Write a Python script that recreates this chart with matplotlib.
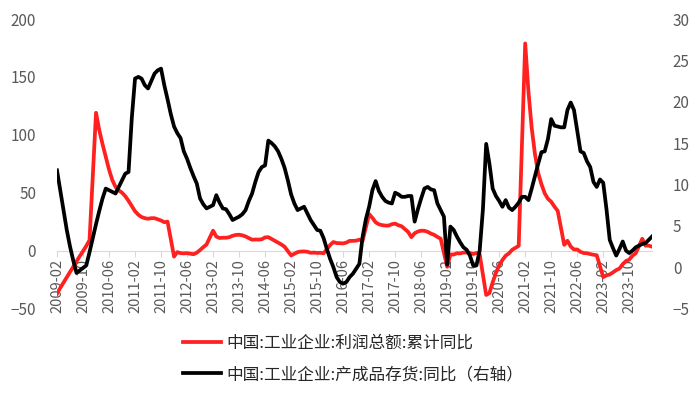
import numpy as np
import pandas as pd
import matplotlib
matplotlib.use("Agg")
import matplotlib.pyplot as plt

plt.rcParams['font.family'] = ['Noto Sans CJK SC', 'DejaVu Sans']

# 月份：2009-02 ~ 2024-05
months = pd.date_range("2009-02-01", "2024-05-01", freq="MS")

# 利润总额:累计同比 (%)，1月无数据
profit_yoy = [
    -37.3, -32.2, -27.6, -23.0, -18.5, -14.0, -9.3, -4.8, -0.5, 4.0, 9.0,          # 2009
    None, 119.0, 104.0, 92.0, 81.0, 70.0, 61.0, 55.0, 52.0, 50.0, 47.0, 43.0,     # 2010
    None, 34.0, 31.0, 29.0, 28.0, 27.5, 28.0, 28.0, 27.0, 26.0, 24.5, 25.0,       # 2011
    None, -5.2, -1.3, -2.2, -2.4, -2.2, -2.7, -3.1, -1.8, 0.5, 3.0, 5.3,          # 2012
    None, 17.2, 12.1, 10.9, 11.1, 11.1, 11.6, 12.8, 13.5, 13.7, 13.2, 12.2,       # 2013
    None, 9.4, 9.6, 9.5, 9.8, 11.4, 11.6, 10.0, 8.5, 6.7, 5.3, 3.3,               # 2014
    None, -4.2, -2.7, -1.3, -0.8, -0.7, -1.0, -1.9, -1.7, -2.0, -1.9, -2.3,       # 2015
    None, 4.8, 7.4, 6.5, 6.4, 6.2, 6.9, 8.4, 8.4, 8.6, 9.4, 8.5,                  # 2016
    None, 31.5, 28.3, 24.4, 22.7, 22.0, 21.6, 21.6, 22.8, 23.3, 21.9, 21.0,       # 2017
    None, 16.1, 11.6, 15.0, 16.5, 17.2, 17.1, 16.2, 14.7, 13.6, 11.8, 10.3,       # 2018
    None, -14.0, -3.3, -3.4, -2.3, -2.4, -1.7, -1.7, -2.1, -2.9, -2.1, -3.3,      # 2019
    None, -38.3, -36.7, -27.4, -19.3, -12.8, -8.1, -4.4, -2.4, 0.7, 2.4, 4.1,     # 2020
    None, 178.9, 137.3, 106.0, 83.4, 66.9, 57.3, 49.5, 44.7, 42.2, 38.0, 34.3,    # 2021
    None, 5.0, 8.5, 3.5, 1.0, 1.0, -1.1, -2.1, -2.3, -3.0, -3.6, -4.0,            # 2022
    None, -22.9, -21.4, -20.6, -18.8, -16.8, -15.5, -11.7, -9.0, -7.8, -4.4, -2.3,  # 2023
    None, 10.2, 4.3, 4.3, 3.4,                                                    # 2024
]

# 产成品存货:同比 (%)，右轴
inventory_yoy = [
    11.7, 9.3, 6.9, 4.5, 2.5, 0.8, -0.7, -0.4, -0.1, 0.2, 1.8,                    # 2009
    3.5, 5.2, 6.8, 8.3, 9.5, 9.3, 9.1, 8.9, 9.7, 10.5, 11.3, 11.5,                # 2010
    18.0, 22.8, 23.0, 22.8, 22.0, 21.6, 22.5, 23.4, 23.8, 24.0, 22.0, 20.3,       # 2011
    18.5, 17.0, 16.2, 15.6, 14.0, 13.1, 12.0, 11.0, 10.1, 8.3, 7.6, 7.1,          # 2012
    7.3, 7.5, 8.7, 7.8, 7.1, 7.0, 6.4, 5.7, 5.9, 6.1, 6.4, 6.9,                   # 2013
    8.0, 8.9, 10.3, 11.5, 12.1, 12.3, 15.3, 15.0, 14.6, 14.0, 13.1, 12.0,         # 2014
    10.5, 8.8, 7.7, 6.9, 7.1, 7.3, 6.5, 5.7, 5.1, 4.5, 4.4, 3.5,                  # 2015
    2.2, 1.0, 0.0, -1.2, -1.8, -2.0, -1.8, -1.2, -0.8, -0.2, 0.4, 3.7,            # 2016
    5.8, 7.3, 9.3, 10.4, 9.2, 8.5, 8.0, 7.8, 7.7, 9.0, 8.8, 8.5,                  # 2017
    8.5, 8.6, 8.6, 5.5, 7.0, 8.3, 9.5, 9.7, 9.4, 9.3, 7.7, 6.9,                   # 2018
    6.1, 0.3, 4.9, 4.5, 3.7, 3.0, 2.4, 2.1, 1.4, 0.2, 0.2, 2.0,                   # 2019
    7.0, 14.9, 12.5, 9.5, 8.6, 8.0, 7.3, 8.1, 7.2, 6.9, 7.3, 7.8,                 # 2020
    8.5, 8.5, 8.1, 9.5, 11.0, 12.5, 13.9, 14.0, 15.5, 17.9, 17.1, 17.0,           # 2021
    16.9, 16.9, 19.0, 19.9, 19.0, 16.5, 14.0, 13.8, 12.8, 12.1, 10.3, 9.7,        # 2022
    10.6, 10.2, 7.0, 3.3, 2.3, 1.4, 2.2, 3.1, 2.0, 1.7, 2.0, 2.4,                 # 2023
    2.6, 2.8, 2.9, 3.3, 3.7,                                                      # 2024
]

labels = ["中国:工业企业:利润总额:累计同比", "中国:工业企业:产成品存货:同比（右轴）"]

x = np.arange(len(months))
profit = np.array([np.nan if v is None else v for v in profit_yoy], dtype=float)
inv = np.array(inventory_yoy, dtype=float)
ok = ~np.isnan(profit)

fig = plt.figure(figsize=(7, 4), dpi=100)
ax = fig.add_axes([57 / 700, 1 - 308.5 / 400, (652 - 57) / 700, 289.5 / 400])
ax2 = ax.twinx()

l1, = ax.plot(x[ok], profit[ok], color="#FF2020", lw=2.7, zorder=3,
              solid_joinstyle="round")
l2, = ax2.plot(x, inv, color="black", lw=2.7, zorder=3, solid_joinstyle="round")

grey = "#595959"
for a in (ax, ax2):
    for s in a.spines.values():
        s.set_visible(False)
ax.spines["bottom"].set_visible(True)
ax.spines["bottom"].set_position(("data", 0))
ax.spines["bottom"].set_color("#D9D9D9")
ax.spines["bottom"].set_zorder(1)

ax.set_xlim(0, len(months) - 1)
ax.set_ylim(-50, 200)
ax.set_yticks(range(-50, 201, 50))
ax2.set_ylim(-5, 30)
ax2.set_yticks(range(-5, 31, 5))

ticks = x[::8]
ax.set_xticks(ticks)
ax.set_xticklabels([f"{months[i].year}-{months[i].month:02d}" for i in ticks])

ax.tick_params(axis="x", length=4, color="#D9D9D9", labelcolor=grey,
               labelsize=10.5, pad=2, labelrotation=90)
ax.tick_params(axis="y", length=0, labelcolor=grey, labelsize=11, pad=15)
ax2.tick_params(axis="y", length=0, labelcolor=grey, labelsize=11, pad=15)

fig.legend([l1, l2], labels, loc="upper left",
           bbox_to_anchor=(183 / 700, 1 - 335 / 400), frameon=False,
           fontsize=12, handlelength=2.3, handletextpad=0.3,
           labelspacing=0.85, borderpad=0, borderaxespad=0,
           labelcolor="#262626")

fig.savefig("out.png", dpi=100)
